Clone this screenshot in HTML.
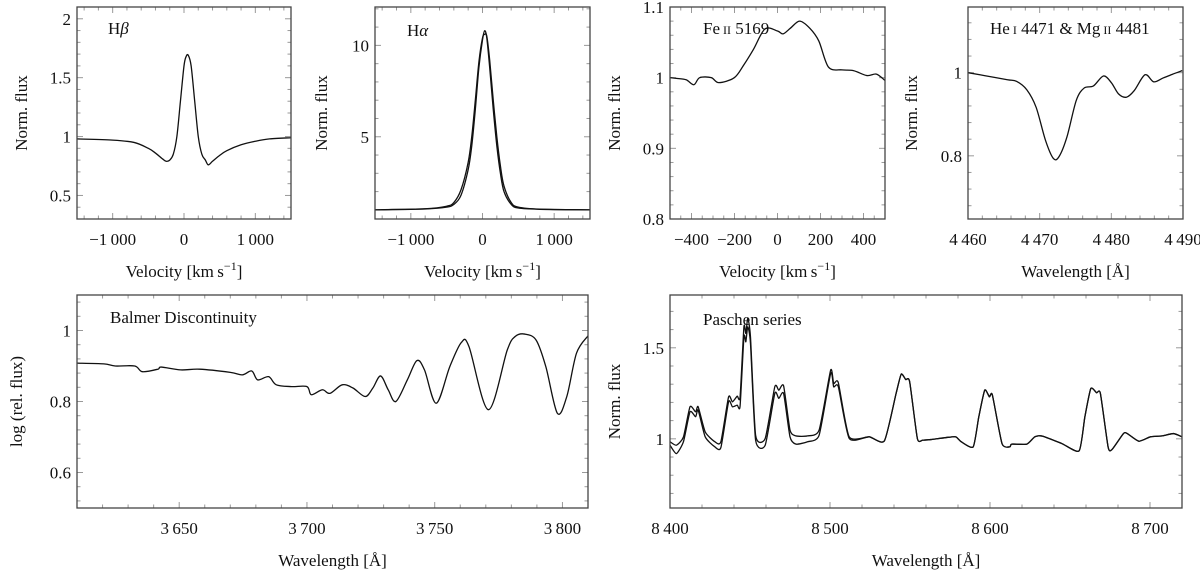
<!DOCTYPE html>
<html><head><meta charset="utf-8"><style>
html,body{margin:0;padding:0;background:#fff;font-family:"Liberation Serif","Times New Roman",Times,serif;}
svg, svg text, svg tspan{font-family:"Liberation Serif","Times New Roman",Times,"DejaVu Serif",serif !important;}
</style></head><body>
<svg id="fig" width="1200" height="570" viewBox="0 0 1200 570"></svg>
<script>
// ---- data arrays ----
const hbVel=[-1500,-1000,-700,-500,-400,-300,-250,-200,-150,-100,-50,0,30,60,100,150,200,250,300,340,400,500,600,800,1000,1200,1500];
const hbFlux=[0.98,0.97,0.95,0.90,0.86,0.81,0.79,0.80,0.85,1.0,1.3,1.6,1.68,1.69,1.6,1.3,1.0,0.85,0.80,0.76,0.79,0.84,0.88,0.93,0.96,0.98,0.99];
const haVel=[-1500,-800,-500,-400,-300,-200,-150,-100,-50,0,30,60,100,150,200,250,300,400,500,800,1500];
const haFluxA=[1.0,1.05,1.15,1.3,1.8,3.2,4.5,6.5,8.8,10.3,10.8,10.4,8.8,6.5,4.5,3.0,2.0,1.3,1.1,1.03,1.0];
const haFluxB=[1.0,1.06,1.2,1.4,2.1,3.6,5.0,7.0,9.1,10.4,10.6,10.5,9.2,7.0,5.0,3.4,2.3,1.4,1.15,1.04,1.0];
const feVel=[-500,-470,-425,-389,-362,-308,-273,-201,-157,-112,-58,0,26,60,103,150,192,237,300,353,416,460,500];
const feFlux=[1.0,0.999,0.997,0.99,1.0,1.0,0.993,1.0,1.018,1.04,1.069,1.066,1.062,1.07,1.08,1.07,1.052,1.015,1.011,1.01,1.003,1.005,0.996];
const heWave=[4460,4462.3,4465.5,4466.8,4468.2,4469.5,4470.8,4471.9,4472.7,4473.8,4475.1,4476.2,4477.5,4478.9,4480,4481,4482.1,4483.2,4484.7,4485.9,4487.2,4488.5,4489.9];
const heFlux=[1.0,0.993,0.983,0.979,0.959,0.917,0.838,0.794,0.798,0.845,0.933,0.963,0.968,0.992,0.976,0.949,0.941,0.957,0.995,0.978,0.987,0.996,1.005];
const bdWave=[3610,3620.5,3625,3632.6,3635.6,3641.6,3643,3650.6,3658,3670,3674.7,3678.4,3680.7,3685,3688,3694,3700,3701.7,3706,3709,3713.8,3718,3722.8,3725.8,3728.8,3731.8,3734.8,3739.3,3743,3746,3750.6,3755.9,3760.4,3763.4,3771,3778.4,3781.5,3785.2,3789.7,3793.5,3798,3801.7,3805.5,3810];
const bdFlux=[0.908,0.906,0.900,0.900,0.884,0.891,0.897,0.889,0.891,0.882,0.875,0.886,0.861,0.870,0.847,0.842,0.842,0.819,0.833,0.823,0.847,0.838,0.814,0.838,0.872,0.833,0.80,0.861,0.915,0.889,0.795,0.898,0.966,0.955,0.777,0.945,0.983,0.99,0.973,0.898,0.767,0.814,0.936,0.985];
const paWave=[8400,8404,8408.4,8412.5,8416,8417.6,8422,8428,8431.8,8436.6,8439,8442,8443.8,8446.2,8447.4,8448.6,8450.3,8453.5,8459.5,8465.5,8468,8471,8475,8478.7,8486,8493.2,8500.4,8502.3,8505.2,8512,8524.5,8534,8541.3,8544.5,8547.3,8549.8,8554.6,8558,8563,8572.6,8578.6,8582,8589.5,8593,8596.7,8599.6,8601.5,8607.5,8612.4,8613.6,8623,8628,8632.8,8644.9,8655.7,8659.3,8663,8666.6,8669,8673.8,8676.2,8683.4,8685.8,8693,8700.3,8707.5,8714.7,8720];
const paTail=[1.011,0.989,1.249,1.355,1.326,1.313,1.002,0.993,0.996,1.007,1.011,0.984,0.956,1.121,1.267,1.231,1.24,0.974,0.956,0.971,0.971,1.011,1.015,0.974,0.934,1.121,1.276,1.253,1.249,0.956,0.941,1.029,1.029,0.987,1.011,1.016,1.029,1.011];
const paFluxA=[0.984,0.965,1.01,1.176,1.148,1.176,1.038,0.984,0.984,1.23,1.203,1.234,1.23,1.615,1.579,1.661,1.56,1.02,1.002,1.286,1.267,1.291,1.048,1.016,1.016,1.048,1.377,1.304,1.308,1.011].concat(paTail);
const paFluxB=[0.965,0.919,0.984,1.148,1.121,1.158,1.011,0.956,0.952,1.203,1.176,1.185,1.18,1.56,1.533,1.615,1.524,0.993,0.965,1.249,1.222,1.249,1.011,0.971,0.984,1.02,1.359,1.286,1.286,1.002].concat(paTail);

const NS="http://www.w3.org/2000/svg";
const fig=document.getElementById('fig');
function el(tag,attrs,parent){const e=document.createElementNS(NS,tag);for(const k in attrs)e.setAttribute(k,attrs[k]);(parent||fig).appendChild(e);return e;}
function fmt(v,dec){let s=v.toFixed(dec);let neg=s[0]==='-';if(neg)s=s.slice(1);let [i,f]=s.split('.');if(i.length>3)i=i.replace(/\B(?=(\d{3})+(?!\d))/g,'\u2009');s=i+(f?'.'+f:'');return (neg?'\u2212':'')+s;}
function smooth(pts,k){
  let d='M'+pts[0][0].toFixed(2)+','+pts[0][1].toFixed(2);
  for(let i=0;i<pts.length-1;i++){
    const p0=pts[Math.max(0,i-1)],p1=pts[i],p2=pts[i+1],p3=pts[Math.min(pts.length-1,i+2)];
    const c1=[p1[0]+(p2[0]-p0[0])*k,p1[1]+(p2[1]-p0[1])*k];
    const c2=[p2[0]-(p3[0]-p1[0])*k,p2[1]-(p3[1]-p1[1])*k];
    d+='C'+c1.map(v=>v.toFixed(2)).join(',')+' '+c2.map(v=>v.toFixed(2)).join(',')+' '+p2[0].toFixed(2)+','+p2[1].toFixed(2);
  }
  return d;
}

function panel(p){
  const g=el('g',{});
  
  
  const sx=v=>p.L+(v-p.xr[0])/(p.xr[1]-p.xr[0])*(p.R-p.L);
  const sy=v=>p.B-(v-p.yr[0])/(p.yr[1]-p.yr[0])*(p.B-p.T);
  const eps=1e-9;
  for(let v=Math.ceil(p.xr[0]/p.xmin-eps)*p.xmin; v<=p.xr[1]+eps; v+=p.xmin){
    const x=sx(v);const maj=Math.abs(v/p.xmaj-Math.round(v/p.xmaj))<1e-6;const len=maj?6:3.5;
    el('line',{x1:x,x2:x,y1:p.B,y2:p.B-len,stroke:'#999','stroke-width':1},g);
    el('line',{x1:x,x2:x,y1:p.T,y2:p.T+len,stroke:'#999','stroke-width':1},g);
    if(maj){const t=el('text',{x:x,y:p.B+26,'text-anchor':'middle','font-size':17,fill:'#111'},g);t.textContent=fmt(v,0);
      }
  }
  for(let v=Math.ceil(p.yr[0]/p.ymin-eps)*p.ymin; v<=p.yr[1]+eps; v+=p.ymin){
    const y=sy(v);const maj=Math.abs(v/p.ymaj-Math.round(v/p.ymaj))<1e-6;const len=maj?6:3.5;
    el('line',{x1:p.L,x2:p.L+len,y1:y,y2:y,stroke:'#999','stroke-width':1},g);
    el('line',{x1:p.R,x2:p.R-len,y1:y,y2:y,stroke:'#999','stroke-width':1},g);
    if(maj){const t=el('text',{x:p.L-6,y:y+6,'text-anchor':'end','font-size':17,fill:'#111'},g);
      let r=Math.round(v*10)/10;t.textContent=(Math.abs(r-Math.round(r))<1e-6)?String(Math.round(r)):String(r);
      }
  }
  p.series.forEach((s,i)=>{
    const pts=s.x.map((v,j)=>[sx(v),sy(s.y[j])]);
    const path=el('path',{d:smooth(pts,p.k||0.16),fill:'none',stroke:'#111','stroke-width':1.3,'stroke-linejoin':'round'},g);
    
    
  });
  const fr=el('rect',{x:p.L,y:p.T,width:p.R-p.L,height:p.B-p.T,fill:'none',stroke:'#444','stroke-width':1.3},g);
  
  const tt=el('text',{x:p.tx,y:p.ty,'font-size':17,fill:'#111'},g);tt.innerHTML=p.title;
  
  const xl=el('text',{x:(p.L+p.R)/2,y:p.B+58,'text-anchor':'middle','font-size':17,fill:'#111'},g);xl.innerHTML=p.xlab;
  
  const cy=(p.T+p.B)/2;
  const yl=el('text',{x:p.ylx,y:cy,'text-anchor':'middle','font-size':17,fill:'#111',transform:`rotate(-90 ${p.ylx} ${cy})`},g);yl.textContent=p.ylab;
  
}
const vel='Velocity [km\u2009s<tspan dy="-7" font-size="12">\u22121</tspan><tspan dy="7">]</tspan>';
const wav='Wavelength [Å]';
panel({name:'h-beta-panel',L:77,R:291,T:7,B:219,xr:[-1500,1500],yr:[0.3,2.1],xmaj:1000,xmin:200,ymaj:0.5,ymin:0.1,
  series:[{x:hbVel,y:hbFlux}],title:'H<tspan font-style="italic">β</tspan>',tx:108,ty:34,xlab:vel,ylab:'Norm. flux',ylx:27});
panel({name:'h-alpha-panel',L:375,R:590,T:7,B:219,xr:[-1500,1500],yr:[0.5,12.1],xmaj:1000,xmin:200,ymaj:5,ymin:1,
  series:[{x:haVel,y:haFluxA},{x:haVel,y:haFluxB}],title:'H<tspan font-style="italic">α</tspan>',tx:407,ty:36,xlab:vel,ylab:'Norm. flux',ylx:327});
panel({name:'fe-ii-panel',L:670,R:885,T:7,B:219,xr:[-500,500],yr:[0.8,1.1],xmaj:200,xmin:50,ymaj:0.1,ymin:0.02,
  series:[{x:feVel,y:feFlux}],title:'Fe<tspan font-size="12"> II</tspan> 5169',tx:703,ty:34,xlab:vel,ylab:'Norm. flux',ylx:620});
panel({name:'he-mg-panel',L:968,R:1183,T:7,B:219,xr:[4460,4490],yr:[0.648,1.158],xmaj:10,xmin:2,ymaj:0.2,ymin:0.04,
  series:[{x:heWave,y:heFlux}],title:'He<tspan font-size="12"> I</tspan> 4471 &amp; Mg<tspan font-size="12"> II</tspan> 4481',tx:990,ty:34,xlab:wav,ylab:'Norm. flux',ylx:917});
panel({name:'balmer-panel',L:77,R:588,T:295,B:508,xr:[3610,3810],yr:[0.5,1.1],xmaj:50,xmin:10,ymaj:0.2,ymin:0.04,
  series:[{x:bdWave,y:bdFlux}],title:'Balmer Discontinuity',tx:110,ty:323,xlab:wav,ylab:'log (rel. flux)',ylx:22});
panel({name:'paschen-panel',L:670,R:1182,T:295,B:508,xr:[8400,8720],yr:[0.62,1.79],xmaj:100,xmin:20,ymaj:0.5,ymin:0.1,k:0.1,
  series:[{x:paWave,y:paFluxA},{x:paWave,y:paFluxB}],title:'Paschen series',tx:703,ty:325,xlab:wav,ylab:'Norm. flux',ylx:620});
</script>
</body></html>
